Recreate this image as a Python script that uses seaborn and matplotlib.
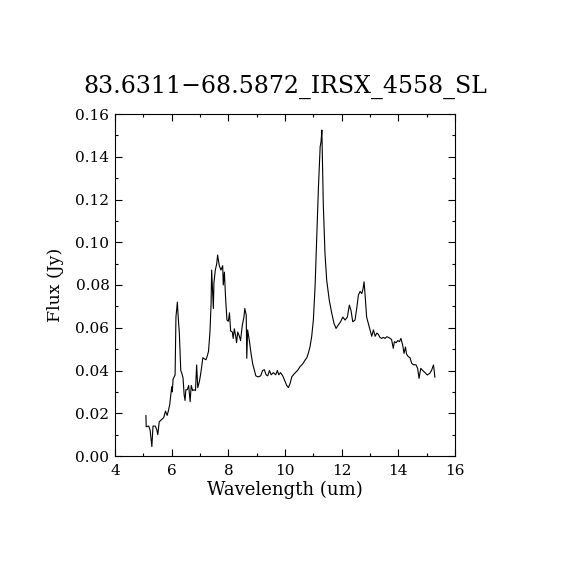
import numpy as np
import pandas as pd
import matplotlib
matplotlib.use("Agg")
import matplotlib.pyplot as plt
from matplotlib.ticker import MultipleLocator
import seaborn as sns

# Spectrum
wavelength = [
    5.09, 5.10, 5.19, 5.24, 5.30, 5.34, 5.42, 5.47, 5.51, 5.56, 5.64, 5.72, 5.78, 5.84,
    5.88, 5.93, 6.00, 6.02, 6.05, 6.12, 6.15, 6.20, 6.23, 6.27, 6.32, 6.35, 6.40, 6.44,
    6.47, 6.50, 6.55, 6.60, 6.65, 6.69, 6.74, 6.79, 6.84, 6.88, 6.92, 6.98, 7.03, 7.10,
    7.15, 7.21, 7.26, 7.30, 7.35, 7.39, 7.41, 7.44, 7.47, 7.49, 7.54, 7.59, 7.62, 7.68,
    7.74, 7.80, 7.82, 7.86, 7.90, 7.95, 8.00, 8.04, 8.08, 8.14, 8.17, 8.21, 8.26, 8.29,
    8.33, 8.39, 8.43, 8.49, 8.55, 8.58, 8.63, 8.65, 8.68, 8.74, 8.80, 8.86, 8.92, 8.97,
    9.05, 9.14, 9.21, 9.27, 9.33, 9.39, 9.45, 9.51, 9.59, 9.67, 9.73, 9.78, 9.84, 9.92,
    10.00, 10.06, 10.12, 10.18, 10.24, 10.30, 10.35, 10.44, 10.53, 10.62, 10.71, 10.77,
    10.82, 10.88, 10.94, 11.00, 11.06, 11.12, 11.18, 11.24, 11.27, 11.30, 11.35, 11.41,
    11.47, 11.56, 11.65, 11.73, 11.80, 11.88, 11.96, 12.04, 12.12, 12.20, 12.27, 12.33,
    12.39, 12.47, 12.53, 12.59, 12.65, 12.71, 12.75, 12.79, 12.83, 12.88, 12.94, 13.00,
    13.06, 13.12, 13.18, 13.24, 13.29, 13.35, 13.41, 13.47, 13.53, 13.59, 13.65, 13.71,
    13.76, 13.82, 13.86, 13.92, 13.98, 14.04, 14.09, 14.15, 14.20, 14.25, 14.29, 14.35,
    14.41, 14.47, 14.53, 14.62, 14.68, 14.73, 14.79, 14.86, 14.94, 15.02, 15.11, 15.17,
    15.24, 15.27, 15.29,
]
flux = [
    0.0190, 0.0137, 0.0140, 0.0120, 0.0044, 0.0140, 0.0140, 0.0125, 0.0100, 0.0160, 0.0170, 0.0180, 0.0210, 0.0190,
    0.0210, 0.0240, 0.0324, 0.0300, 0.0360, 0.0379, 0.0650, 0.0720, 0.0650, 0.0575, 0.0400, 0.0390, 0.0366, 0.0285,
    0.0260, 0.0310, 0.0310, 0.0330, 0.0254, 0.0330, 0.0306, 0.0310, 0.0306, 0.0426, 0.0320, 0.0350, 0.0390, 0.0460,
    0.0455, 0.0450, 0.0470, 0.0490, 0.0580, 0.0710, 0.0870, 0.0780, 0.0690, 0.0810, 0.0870, 0.0900, 0.0940, 0.0890,
    0.0870, 0.0890, 0.0800, 0.0860, 0.0745, 0.0636, 0.0630, 0.0670, 0.0585, 0.0580, 0.0550, 0.0595, 0.0560, 0.0530,
    0.0580, 0.0560, 0.0540, 0.0610, 0.0650, 0.0690, 0.0660, 0.0457, 0.0590, 0.0540, 0.0480, 0.0430, 0.0400, 0.0375,
    0.0370, 0.0375, 0.0400, 0.0404, 0.0380, 0.0375, 0.0400, 0.0380, 0.0390, 0.0380, 0.0400, 0.0380, 0.0390, 0.0375,
    0.0350, 0.0330, 0.0320, 0.0340, 0.0371, 0.0380, 0.0388, 0.0400, 0.0418, 0.0430, 0.0449, 0.0460,
    0.0480, 0.0510, 0.0558, 0.0636, 0.0792, 0.1026, 0.1260, 0.1447, 0.1470, 0.1525, 0.1180, 0.0948,
    0.0823, 0.0730, 0.0667, 0.0620, 0.0597, 0.0613, 0.0628, 0.0650, 0.0636, 0.0650, 0.0706, 0.0680,
    0.0628, 0.0636, 0.0690, 0.0753, 0.0770, 0.0760, 0.0780, 0.0815, 0.0745, 0.0650, 0.0620, 0.0590,
    0.0560, 0.0590, 0.0560, 0.0575, 0.0570, 0.0555, 0.0550, 0.0555, 0.0550, 0.0558, 0.0555, 0.0550,
    0.0545, 0.0504, 0.0535, 0.0530, 0.0540, 0.0535, 0.0550, 0.0520, 0.0480, 0.0510, 0.0476, 0.0465,
    0.0460, 0.0434, 0.0427, 0.0427, 0.0410, 0.0363, 0.0410, 0.0400, 0.0390, 0.0379, 0.0387, 0.0400,
    0.0426, 0.0390, 0.0368,
]

title = "83.6311\u221268.5872_IRSX_4558_SL"

df = pd.DataFrame({"Wavelength (um)": wavelength, "Flux (Jy)": flux})

sns.set_style("ticks")
plt.rcParams["font.family"] = ["DejaVu Serif"]
plt.rcParams["text.color"] = "black"
plt.rcParams["axes.labelcolor"] = "black"

fig = plt.figure(figsize=(5.7, 5.7), dpi=100)
ax = fig.add_axes([0.2018, 0.2, 0.5965, 0.6])

sns.lineplot(data=df, x="Wavelength (um)", y="Flux (Jy)", ax=ax,
             color="black", linewidth=0.8, estimator=None, sort=False)

ax.set_xlim(4, 16)
ax.set_ylim(0, 0.16)
ax.xaxis.set_major_locator(MultipleLocator(2))
ax.xaxis.set_minor_locator(MultipleLocator(1))
ax.yaxis.set_major_locator(MultipleLocator(0.02))
ax.yaxis.set_minor_locator(MultipleLocator(0.01))
ax.yaxis.set_major_formatter(plt.FuncFormatter(lambda v, p: f"{v:.2f}"))

ax.tick_params(which="both", direction="in", top=True, right=True, colors="black")
ax.tick_params(which="major", length=5, width=0.8, labelsize=11)
ax.tick_params(axis="x", which="major", pad=6)
ax.tick_params(axis="y", which="major", pad=4)
ax.tick_params(which="minor", length=2.5, width=0.8)
for s in ax.spines.values():
    s.set_linewidth(0.8)
    s.set_color("black")

ax.set_xlabel("Wavelength (um)", fontsize=13, labelpad=2)
ax.set_ylabel("Flux (Jy)", fontsize=12.5, labelpad=8)
ax.set_title(title, fontsize=17, pad=15, color="black")

fig.savefig("out.png", dpi=100, facecolor="white")
